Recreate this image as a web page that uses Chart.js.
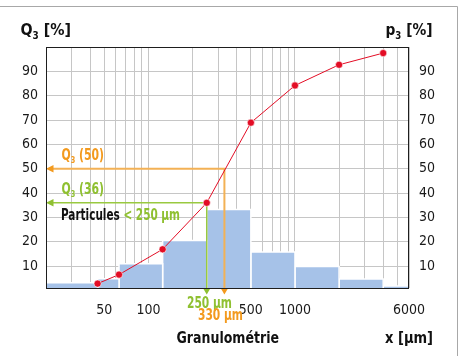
<!DOCTYPE html>
<html>
<head>
<meta charset="utf-8">
<script src="https://cdn.jsdelivr.net/npm/chart.js@4.4.1/dist/chart.umd.min.js"></script>
<style>
    html, body { margin: 0; padding: 0; background: #fff; }
    #wrap { width: 460px; height: 356px; position: relative; }
    #chart { display: block; }
</style>
</head>
<body>
<div id="wrap"><canvas id="chart" width="460" height="356"></canvas></div>
<script>
// Histogram bins (size classes in µm) and their share p3 [%]
const binEdges = [20, 45, 63, 125, 250, 500, 1000, 2000, 4000, 6000];
const binValues = [3.2, 4.8, 11, 20.5, 33.2, 15.8, 9.8, 4.7, 1.8];

// Cumulative curve Q3 [%]
const cumSizes = [45, 63, 125, 250, 500, 1000, 2000, 4000];
const cumValues = [2.8, 6.5, 16.9, 36, 68.9, 84.2, 92.7, 97.5];

// Reading lines: Q3(50) -> 330 µm, Q3(36) -> 250 µm
const markerSizes = [330, 250];
const markerLevels = [50, 36];

// Axis ticks
const xGridValues = [20, 30, 40, 50, 60, 70, 80, 90, 100, 200, 300, 400, 500, 600, 700, 800, 900, 1000, 2000, 3000, 4000, 5000, 6000];
const xLabels = [50, 100, 500, 1000, 6000];
const yTicks = [10, 20, 30, 40, 50, 60, 70, 80, 90];

const FAMILY = "'Liberation Sans Narrow', 'DejaVu Sans Condensed', sans-serif";
const ORANGE = '#f39a1e';
const ORANGE_LINE = '#f3b155';
const GREEN = '#8fc031';
const GREEN_LINE = '#99c940';
const GRID = '#c6c6c6';
const BAR = '#a6c2e8';
const RED = '#e30d25';

// one filled polygon per bin, drawn through the scales
const binDatasets = binValues.map((v, i) => ({
    type: 'line',
    data: [
        { x: binEdges[i], y: 1 },
        { x: binEdges[i], y: v },
        { x: binEdges[i + 1], y: v },
        { x: binEdges[i + 1], y: 1 }
    ],
    borderColor: '#ffffff',
    borderWidth: 1.5,
    backgroundColor: BAR,
    fill: 'origin',
    pointRadius: 0,
    tension: 0
}));

function drawRich(ctx, segs, x, y, size, width) {
    // segs: [text, color, isSubscript]
    ctx.save();
    ctx.textAlign = 'left';
    ctx.textBaseline = 'alphabetic';
    const fontOf = s => 'bold ' + (s[2] ? Math.round(size * 0.6) : size) + 'px ' + FAMILY;
    let total = 0;
    const widths = segs.map(s => {
        ctx.font = fontOf(s);
        const w = ctx.measureText(s[0]).width;
        total += w;
        return w;
    });
    const k = width ? width / total : 1;
    ctx.translate(x, y);
    ctx.scale(k, 1);
    let cx = 0;
    segs.forEach((s, i) => {
        ctx.font = fontOf(s);
        ctx.fillStyle = s[1];
        ctx.fillText(s[0], cx, s[2] ? size * 0.22 : 0);
        cx += widths[i];
    });
    ctx.restore();
}

function drawMarker(ctx, chart, size, level, lineColor, headColor, lineWidth) {
    const a = chart.chartArea;
    const px = chart.scales.x.getPixelForValue(size);
    const py = chart.scales.y.getPixelForValue(level);
    ctx.save();
    ctx.strokeStyle = lineColor;
    ctx.lineWidth = lineWidth;
    ctx.beginPath();
    ctx.moveTo(a.left + 6, py);
    ctx.lineTo(px, py);
    ctx.lineTo(px, a.bottom);
    ctx.stroke();
    ctx.fillStyle = headColor;
    ctx.beginPath();
    ctx.moveTo(a.left, py);
    ctx.lineTo(a.left + 7.5, py - 3.8);
    ctx.lineTo(a.left + 7.5, py + 3.8);
    ctx.closePath();
    ctx.fill();
    ctx.beginPath();
    ctx.moveTo(px, a.bottom + 6.5);
    ctx.lineTo(px - 3.8, a.bottom);
    ctx.lineTo(px + 3.8, a.bottom);
    ctx.closePath();
    ctx.fill();
    ctx.restore();
}

const overlay = {
    id: 'overlay',
    beforeDatasetDraw(chart, args) {
        if (args.index !== 0) return;
        const ctx = chart.ctx;
        drawMarker(ctx, chart, markerSizes[0], markerLevels[0], ORANGE_LINE, ORANGE, 2);
        drawMarker(ctx, chart, markerSizes[1], markerLevels[1], GREEN_LINE, GREEN, 1.5);
    },
    afterDatasetsDraw(chart) {
        const ctx = chart.ctx;
        const a = chart.chartArea;
        ctx.save();
        ctx.strokeStyle = '#1e1e1e';
        ctx.lineWidth = 1;
        ctx.strokeRect(Math.round(a.left) + 0.5, Math.round(a.top) + 0.5,
            Math.round(a.right - a.left) - 1, Math.round(a.bottom - a.top));
        ctx.restore();
    },
    afterDraw(chart) {
        const ctx = chart.ctx;
        const dark = '#111111';
        // outer frame (top and right edges visible)
        ctx.save();
        ctx.strokeStyle = '#a8a8a8';
        ctx.lineWidth = 1;
        ctx.beginPath();
        ctx.moveTo(0, 6.5);
        ctx.lineTo(457.5, 6.5);
        ctx.lineTo(457.5, 356);
        ctx.stroke();
        ctx.restore();

        drawRich(ctx, [['Q', dark], ['3', dark, true], [' [%]', dark]], 20.5, 35, 16, 50.5);
        drawRich(ctx, [['p', dark], ['3', dark, true], [' [%]', dark]], 385.5, 35, 16, 47);
        drawRich(ctx, [['Granulométrie', dark]], 176.5, 343, 16, 102.5);
        drawRich(ctx, [['x [µm]', dark]], 385, 343, 16, 48);

        drawRich(ctx, [['Q', ORANGE], ['3', ORANGE, true], [' (50)', ORANGE]], 61.5, 160, 15, 42.5);
        drawRich(ctx, [['Q', GREEN], ['3', GREEN, true], [' (36)', GREEN]], 61.5, 193.5, 15, 42.5);
        drawRich(ctx, [['Particules ', dark], ['< 250 µm', GREEN]], 61, 220, 15, 119);

        drawRich(ctx, [['250 µm', GREEN]], 187, 307.5, 15, 45);
        drawRich(ctx, [['330 µm', ORANGE]], 198, 319.5, 15, 45);
    }
};

new Chart(document.getElementById('chart'), {
    type: 'line',
    data: {
        datasets: [
            {
                data: cumSizes.map((x, i) => ({ x: x, y: cumValues[i] })),
                borderColor: RED,
                borderWidth: 1,
                backgroundColor: RED,
                pointRadius: 3.6,
                pointBackgroundColor: RED,
                pointBorderColor: '#ffffff',
                pointBorderWidth: 0.6,
                fill: false,
                tension: 0,
                clip: false
            },
            ...binDatasets
        ]
    },
    options: {
        responsive: false,
        animation: false,
        devicePixelRatio: 1,
        layout: { padding: { top: 47, left: 0, right: 0, bottom: 0 } },
        plugins: {
            legend: { display: false },
            tooltip: { enabled: false }
        },
        scales: {
            x: {
                type: 'logarithmic',
                min: 20,
                max: 6000,
                afterBuildTicks: s => { s.ticks = xGridValues.map(v => ({ value: v })); },
                afterFit: s => { s.height = 68; },
                grid: { color: GRID, drawTicks: false },
                border: { display: false },
                ticks: {
                    autoSkip: false,
                    maxRotation: 0,
                    padding: 14,
                    color: '#1a1a1a',
                    font: { family: FAMILY, size: 14 },
                    callback: v => xLabels.includes(v) ? String(v) : ''
                }
            },
            y: {
                type: 'linear',
                position: 'left',
                min: 1,
                max: 100,
                afterBuildTicks: s => { s.ticks = yTicks.map(v => ({ value: v })); },
                afterFit: s => { s.width = 46; },
                grid: { color: GRID, drawTicks: false },
                border: { display: false },
                ticks: { padding: 8, color: '#1a1a1a', font: { family: FAMILY, size: 14 } }
            },
            y2: {
                type: 'linear',
                position: 'right',
                min: 1,
                max: 100,
                afterBuildTicks: s => { s.ticks = yTicks.map(v => ({ value: v })); },
                afterFit: s => { s.width = 51; },
                grid: { display: false, drawTicks: false },
                border: { display: false },
                ticks: { padding: 10, color: '#1a1a1a', font: { family: FAMILY, size: 14 } }
            }
        }
    },
    plugins: [overlay]
});
</script>
</body>
</html>
